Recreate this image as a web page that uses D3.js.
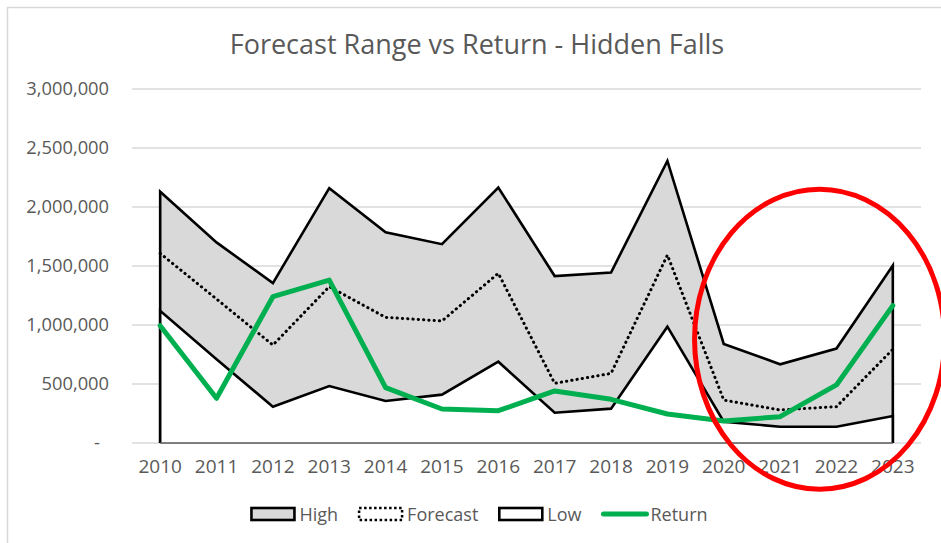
<!DOCTYPE html>
<html>
<head>
<meta charset="utf-8">
<script src="https://cdnjs.cloudflare.com/ajax/libs/d3/7.8.5/d3.min.js"></script>
<style>
  html, body { margin: 0; padding: 0; background: #fff; }
  svg { display: block; font-family: "Open Sans", "Noto Sans", sans-serif; }
</style>
</head>
<body>
<div id="chart"></div>
<script>
// values
var years = ["2010","2011","2012","2013","2014","2015","2016","2017","2018","2019","2020","2021","2022","2023"]
var high     = [2130000,1700000,1355000,2160000,1785000,1685000,2165000,1415000,1445000,2390000,840000,667000,800000,1505000]
var forecast = [1607000,1220000,830000,1325000,1065000,1034000,1438000,506000,590000,1593000,364000,280000,308000,794000]
var low      = [1121000,710000,308000,483000,356000,410000,689000,257000,291000,986000,180000,138000,138000,229000]
var ret      = [994000,379000,1240000,1381000,469000,288000,274000,441000,370000,246000,186000,223000,492000,1164000]
var yTicks = [0,500000,1000000,1500000,2000000,2500000,3000000]
var legendItems = ["High","Forecast","Low","Return"]
var title = "Forecast Range vs Return - Hidden Falls"
// annotation ellipse, placed in data terms (category offset, value)
var ringCenter = {year: "2021", offset: 0.7, value: 880000}

var W = 941, H = 543
var margin = {top: 89, right: 20, bottom: 100, left: 132}
var plotW = 789, plotH = 354

var svg = d3.select("#chart").append("svg")
    .attr("width", W)
    .attr("height", H)

// chart frame
svg.append("rect")
    .attr("x", 7.5).attr("y", 7.5)
    .attr("width", 1000).attr("height", 600)
    .attr("fill", "#fff")
    .attr("stroke", "#d9d9d9")
    .attr("stroke-width", 1.5)

svg.append("text")
    .attr("x", 477)
    .attr("y", 54)
    .attr("text-anchor", "middle")
    .attr("fill", "#595959")
    .style("font-size", "27px")
    .text(title)

var g = svg.append("g")
    .attr("transform", `translate(${margin.left},${margin.top})`)

var x = d3.scaleBand().domain(years).range([0, plotW])
var cx = d => x(d) + x.bandwidth() / 2
var y = d3.scaleLinear().domain([0, 3000000]).range([plotH, 0])

// gridlines
g.append("g")
    .selectAll("line")
    .data(yTicks)
    .join("line")
    .attr("x1", 0).attr("x2", plotW)
    .attr("y1", d => y(d)).attr("y2", d => y(d))
    .attr("stroke", "#d9d9d9")
    .attr("stroke-width", 1.3)

// y axis labels
var fmt = d3.format(",")
var yAxis = g.append("g")
    .call(d3.axisLeft(y).tickValues(yTicks).tickSize(0).tickPadding(23)
        .tickFormat(d => d === 0 ? "-" : fmt(d)))
yAxis.select(".domain").remove()
yAxis.selectAll("text")
    .attr("fill", "#595959")
    .style("font-family", "'Open Sans', sans-serif")
    .style("font-size", "18.3px")
yAxis.selectAll(".tick").filter(d => d === 0).select("text").attr("dx", "-9")

// x axis labels
var xAxis = g.append("g")
    .attr("transform", `translate(0,${plotH})`)
    .call(d3.axisBottom(x).tickSize(0).tickPadding(17))
xAxis.select(".domain").remove()
xAxis.selectAll("text")
    .attr("fill", "#595959")
    .style("font-family", "'Open Sans', sans-serif")
    .style("font-size", "19px")

var idx = d3.range(years.length)

// filled ranges
var areaFor = arr => d3.area().x(i => cx(years[i])).y0(y(0)).y1(i => y(arr[i]))
var outlineFor = arr => {
    var pts = [[cx(years[0]), y(0)]]
    idx.forEach(i => pts.push([cx(years[i]), y(arr[i])]))
    pts.push([cx(years[years.length - 1]), y(0)])
    return d3.line()(pts)
}

g.append("path").attr("d", areaFor(high)(idx)).attr("fill", "#d9d9d9")
g.append("path").attr("d", outlineFor(high))
    .attr("fill", "none").attr("stroke", "#000").attr("stroke-width", 2.6)
    .attr("stroke-linejoin", "miter")
g.append("path").attr("d", areaFor(low)(idx)).attr("fill", "#fff")
g.append("path").attr("d", outlineFor(low))
    .attr("fill", "none").attr("stroke", "#000").attr("stroke-width", 2.6)

// bottom edge of the areas
g.append("line")
    .attr("x1", cx(years[0])).attr("x2", cx(years[years.length - 1]))
    .attr("y1", y(0)).attr("y2", y(0))
    .attr("stroke", "#595959").attr("stroke-width", 1.5)

var line = arr => d3.line().x(i => cx(years[i])).y(i => y(arr[i]))(idx)

g.append("path").attr("d", line(forecast))
    .attr("fill", "none").attr("stroke", "#000").attr("stroke-width", 3)
    .attr("stroke-dasharray", "0.3,5").attr("stroke-linecap", "round")

g.append("path").attr("d", line(ret))
    .attr("fill", "none").attr("stroke", "#00b050").attr("stroke-width", 5)
    .attr("stroke-linejoin", "round").attr("stroke-linecap", "round")

// red ring
g.append("ellipse")
    .attr("cx", x(ringCenter.year) + x.bandwidth() * (0.5 + ringCenter.offset))
    .attr("cy", y(ringCenter.value))
    .attr("rx", 125).attr("ry", 150)
    .attr("fill", "none").attr("stroke", "#ff0000").attr("stroke-width", 5)

// legend
var legend = svg.append("g")
var lx = 0
var items = legendItems.map(name => {
    var it = legend.append("g")
    if (name === "Return") {
        it.append("line").attr("x1", 2).attr("x2", 45).attr("y1", 0).attr("y2", 0)
            .attr("stroke", "#00b050").attr("stroke-width", 5).attr("stroke-linecap", "round")
    } else {
        var r = it.append("rect").attr("x", 1).attr("y", -6).attr("width", 43).attr("height", 12)
            .attr("stroke", "#000").attr("stroke-width", 2.6)
            .attr("fill", name === "High" ? "#d9d9d9" : "#fff")
        if (name === "Forecast") r.attr("stroke-dasharray", "2.5,2.5").attr("stroke-width", 2.5)
    }
    var t = it.append("text").attr("x", 49).attr("y", 6.5)
        .attr("fill", "#595959").style("font-size", "18px").text(name)
    var w = 49 + t.node().getComputedTextLength()
    it.attr("transform", `translate(${lx},0)`)
    lx += w + 20
    return it
})
var total = lx - 20
legend.attr("transform", `translate(${479 - total / 2},514)`)
</script>
</body>
</html>
